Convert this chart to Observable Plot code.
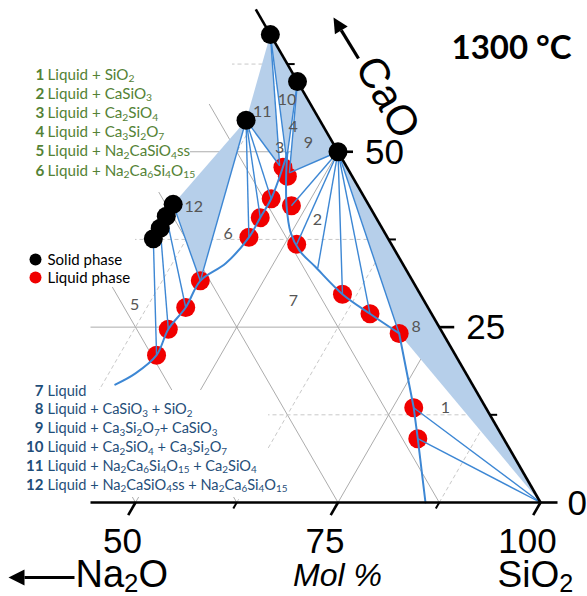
<!DOCTYPE html>
<html><head><meta charset="utf-8">
<script src="https://cdn.jsdelivr.net/npm/d3@7"></script>
<script src="https://cdn.jsdelivr.net/npm/@observablehq/plot@0.6"></script>
<style>body{margin:0;background:#fff}#chart svg{display:block}</style>
</head><body><div id="chart"></div>
<script>
// ---------------- DATA (mol %) ----------------
// Solid phases (black dots)
const solidPhase = ["Ca₂SiO₄","Ca₃Si₂O₇","CaSiO₃","Na₂Ca₆Si₄O₁₅","Na₂CaSiO₄ss","Na₂CaSiO₄ss","Na₂CaSiO₄ss","Na₂CaSiO₄ss"];
const solidCaO  = [66.7, 60.0, 50.0, 54.5, 42.5, 40.8, 39.1, 37.6];
const solidSiO2 = [33.3, 40.0, 50.0, 36.4, 33.4, 33.4, 33.5, 33.4];

// Liquid phase compositions (red dots)
const liquidCaO  = [47.8, 46.5, 43.3, 42.3, 40.6, 37.8, 36.8, 31.6, 27.8, 24.7, 21.0, 29.7, 26.9, 24.1, 13.5, 9.1];
const liquidSiO2 = [44.3, 45.5, 45.1, 48.1, 45.1, 45.1, 51.5, 42.2, 42.3, 41.7, 42.1, 60.7, 65.5, 70.5, 77.6, 80.3];

// Tie lines: solid end -> liquid end
const tieFromCaO  = [0, 0, 50, 50, 50, 50, 50, 50, 50, 54.5, 54.5, 54.5, 54.5, 54.5, 66.7, 66.7, 60, 60, 42.5, 40.8, 39.1, 37.6];
const tieFromSiO2 = [100, 100, 50, 50, 50, 50, 50, 50, 50, 36.4, 36.4, 36.4, 36.4, 36.4, 33.3, 33.3, 40, 40, 33.4, 33.4, 33.5, 33.4];
const tieToCaO    = [13.5, 9.1, 47.0, 42.3, 36.8, 33.4, 29.7, 26.9, 24.1, 48.0, 43.3, 40.6, 37.8, 31.6, 48.0, 48.9, 48.9, 47.0, 31.6, 27.8, 24.7, 21.0];
const tieToSiO2   = [77.6, 80.3, 45.5, 48.1, 51.5, 55.8, 60.7, 65.5, 70.5, 43.8, 45.1, 45.1, 45.1, 42.2, 43.8, 44.2, 44.2, 45.5, 42.2, 42.3, 41.7, 42.1];

// Three-phase triangles (regions 8-12)
const triRegion = [8, 8, 8, 9, 9, 9, 10, 10, 10, 11, 11, 11, 12, 12, 12];
const triCaO    = [50, 0, 24.1, 60, 50, 47.0, 66.7, 60, 48.9, 66.7, 54.5, 48.0, 42.5, 54.5, 31.6];
const triSiO2   = [50, 100, 70.5, 40, 50, 45.5, 33.3, 40, 44.2, 33.3, 36.4, 43.8, 33.4, 36.4, 42.2];

// Liquidus curves at 1300 °C
const curveACaO  = [16.8, 18.4, 21.0, 24.7, 27.8, 31.6, 34.1, 37.8, 40.6, 43.3, 47.8, 49.9];
const curveASiO2 = [39.1, 40.8, 42.1, 41.7, 42.3, 42.2, 44.1, 45.1, 45.1, 45.1, 44.3, 43.8];
const curveBCaO  = [49.9, 46.6, 42.3, 38.5, 35.9, 33.6, 29.7, 26.9, 24.1];
const curveBSiO2 = [43.8, 45.3, 47.5, 49.9, 52.3, 55.4, 60.7, 65.5, 70.5];
const curveSCaO  = [24.1, 13.5, 9.1, 0];
const curveSSiO2 = [70.5, 77.6, 80.3, 85.8];

// Region number labels
const regionLabel = ["1","2","3","4","5","6","7","8","9","10","11","12"];
const regionCaO   = [13.5, 40.3, 50.6, 53.5, 28.2, 38.3, 28.8, 25.1, 51.3, 57.4, 55.7, 42.2];
const regionSiO2  = [81.5, 52.3, 42.5, 42.7, 35.8, 42.3, 55.1, 72.1, 45.7, 40.0, 37.8, 36.1];

// Axes / grid
const bottomTicks = [50, 62.5, 75, 87.5, 100];
const rightTicks  = [0, 12.5, 25, 37.5, 50, 62.5];
const bottomTickLabels = ["50", "75", "100"];
const bottomTickLabelSiO2 = [50, 75, 100];
const rightTickLabels = ["0", "25", "50"];
const rightTickLabelCaO = [0, 25, 50];
const gridCaO  = [12.5, 25, 37.5, 50, 62.5];
const gridSiO2 = [37.5, 50, 62.5, 75, 87.5];
const gridNa2O = [12.5, 25, 37.5, 50];

// Legends
const legendTopNum  = ["1","2","3","4","5","6"];
const legendTopText = ["Liquid + SiO₂","Liquid + CaSiO₃","Liquid + Ca₂SiO₄","Liquid + Ca₃Si₂O₇","Liquid + Na₂CaSiO₄ss","Liquid + Na₂Ca₆Si₄O₁₅"];
const legendBotNum  = ["7","8","9","10","11","12"];
const legendBotText = ["Liquid","Liquid + CaSiO₃ + SiO₂","Liquid + Ca₃Si₂O₇+ CaSiO₃","Liquid + Ca₂SiO₄ + Ca₃Si₂O₇","Liquid + Na₂Ca₆Si₄O₁₅ + Ca₂SiO₄","Liquid + Na₂CaSiO₄ss + Na₂Ca₆Si₄O₁₅"];
const phaseLegend = ["Solid phase", "Liquid phase"];

// ---------------- LAYOUT ----------------
const W = 587, H = 596;
const K = 8.1;                       // px per mol%
const X0 = -270, Y0 = 502;
const KY = K * Math.sqrt(3) / 2;
const invX = px => (px - X0) / K;
const invY = py => (Y0 - py) / KY;
const cart = (c, s) => ({x: s + c / 2, y: c});
const XMIN = invX(90), YMAX = 62.6;

const BLUE = "#3d87d4", FILL = "#b6cfea", RED = "#f00000";
const GREEN = "#548235", NAVY = "#1f4e79";
const SANS = "Liberation Sans, Arial, sans-serif";
const CAL = "Lato, Carlito, Calibri, sans-serif";

function clipSeg(p, q) {
  let t0 = 0, t1 = 1;
  const dx = q.x - p.x, dy = q.y - p.y;
  const clip = (pp, qq) => {
    if (pp === 0) return qq >= 0;
    const r = qq / pp;
    if (pp < 0) { if (r > t1) return false; if (r > t0) t0 = r; }
    else { if (r < t0) return false; if (r < t1) t1 = r; }
    return true;
  };
  if (!clip(-dx, p.x - XMIN)) return null;
  if (!clip(dy, YMAX - p.y)) return null;
  return {x1: p.x + t0 * dx, y1: p.y + t0 * dy, x2: p.x + t1 * dx, y2: p.y + t1 * dy};
}
const gridSolid = [], gridDash = [];
gridCaO.forEach(c => { const s = clipSeg(cart(c, 0), cart(c, 100 - c)); if (s) (c % 25 ? gridDash : gridSolid).push(s); });
gridSiO2.forEach(v => { const s = clipSeg(cart(0, v), cart(100 - v, v)); if (s) (v % 25 ? gridDash : gridSolid).push(s); });
gridNa2O.forEach(n => { const s = clipSeg(cart(0, 100 - n), cart(100 - n, 0)); if (s) gridSolid.push(s); });

// white label boxes (px)
const boxesPx = [[28, 232, 55, 104], [28, 190, 104, 192], [25, 135, 228, 287], [20, 268, 390, 497]];
const boxes = boxesPx.map(([a, b, c, d]) => ({x1: invX(a), x2: invX(b), y1: invY(c), y2: invY(d)}));

const solids = solidCaO.map((c, i) => ({...cart(c, solidSiO2[i]), name: solidPhase[i]}));
const liquids = liquidCaO.map((c, i) => cart(c, liquidSiO2[i]));
const ties = tieFromCaO.map((c, i) => { const a = cart(c, tieFromSiO2[i]), b = cart(tieToCaO[i], tieToSiO2[i]); return {x1: a.x, y1: a.y, x2: b.x, y2: b.y}; });
const tris = triCaO.map((c, i) => ({...cart(c, triSiO2[i]), region: triRegion[i]}));
const curveA = curveACaO.map((c, i) => cart(c, curveASiO2[i]));
const curveB = curveBCaO.map((c, i) => cart(c, curveBSiO2[i]));
const curveS = curveSCaO.map((c, i) => cart(c, curveSSiO2[i]));
const regions = regionLabel.map((t, i) => ({...cart(regionCaO[i], regionSiO2[i]), t}));

// axes
const edgeA = cart(0, 100), edgeB = cart(70.3, 29.7);
const edges = [
  {x1: edgeA.x, y1: edgeA.y, x2: edgeB.x, y2: edgeB.y},
  {x1: XMIN, y1: 0, x2: 100, y2: 0}
];
const ticks = [];
bottomTicks.forEach(s => { const t = s % 25 ? 0.85 : 1.8; ticks.push({x1: s, y1: 0, x2: s - t / 2, y2: -t, w: s % 25 ? 2 : 2.6}); });
rightTicks.forEach(c => { const t = c % 25 ? 0.9 : (c === 0 ? 2.1 : 1.85); const a = cart(c, 100 - c); ticks.push({x1: a.x, y1: a.y, x2: a.x + t, y2: a.y, w: c % 25 ? 2 : 2.6}); });

// arrows (px layout)
function arrow(tail, tip, len, half) {
  const dx = tip[0] - tail[0], dy = tip[1] - tail[1], L = Math.hypot(dx, dy);
  const ux = dx / L, uy = dy / L, bx = tip[0] - len * ux, by = tip[1] - len * uy;
  return {
    shaft: {x1: invX(tail[0]), y1: invY(tail[1]), x2: invX(bx), y2: invY(by)},
    head: [[tip[0], tip[1]], [bx - half * uy, by + half * ux], [bx + half * uy, by - half * ux]].map(([px, py]) => ({x: invX(px), y: invY(py), id: tip.join()}))
  };
}
const arrCaO = arrow([358, 58], [333, 17], 15, 7.5);
const arrNa = arrow([74, 577], [8, 577], 16, 8);

const T = (pxX, pxY) => ({x: () => invX(pxX), y: () => invY(pxY)});

const plot = Plot.plot({
  width: W, height: H, margin: 0,
  x: {domain: [0, 100], range: [X0, X0 + 100 * K], axis: null},
  y: {domain: [0, 100], range: [Y0, Y0 - 100 * KY], axis: null},
  style: {background: "white", overflow: "hidden"},
  marks: [
    Plot.link(gridSolid, {x1: "x1", y1: "y1", x2: "x2", y2: "y2", stroke: "#a3a3a3", strokeWidth: 0.9}),
    Plot.link(gridDash, {x1: "x1", y1: "y1", x2: "x2", y2: "y2", stroke: "#c2c2c2", strokeWidth: 0.9, strokeDasharray: "4,3"}),
    Plot.rect(boxes, {x1: "x1", x2: "x2", y1: "y1", y2: "y2", fill: "white"}),
    Plot.line(tris, {x: "x", y: "y", z: "region", fill: FILL, stroke: "none"}),
    Plot.dot(liquids, {x: "x", y: "y", r: 9.5, fill: RED}),
    Plot.link(ties, {x1: "x1", y1: "y1", x2: "x2", y2: "y2", stroke: BLUE, strokeWidth: 1.4}),
    Plot.line(curveA, {x: "x", y: "y", curve: "catmull-rom", stroke: BLUE, strokeWidth: 2}),
    Plot.line(curveB, {x: "x", y: "y", curve: "catmull-rom", stroke: BLUE, strokeWidth: 2}),
    Plot.line(curveS, {x: "x", y: "y", stroke: BLUE, strokeWidth: 2}),
    Plot.dot(solids, {x: "x", y: "y", r: 9.5, fill: "black"}),
    Plot.link(edges, {x1: "x1", y1: "y1", x2: "x2", y2: "y2", stroke: "black", strokeWidth: 2.6}),
    Plot.link(ticks, {x1: "x1", y1: "y1", x2: "x2", y2: "y2", stroke: "black", strokeWidth: "w"}),
    Plot.text(regions, {x: "x", y: "y", text: "t", fill: "#555", fontSize: 16, fontFamily: CAL}),
    // tick labels
    Plot.text(bottomTickLabels, {x: (d, i) => bottomTickLabelSiO2[i], y: () => 0, text: d => d, dx: -13, dy: 50, lineAnchor: "bottom", fontSize: 35, fontFamily: SANS, fill: "black"}),
    Plot.text(rightTickLabels, {x: (d, i) => cart(rightTickLabelCaO[i], 100 - rightTickLabelCaO[i]).x, y: (d, i) => rightTickLabelCaO[i], text: d => d, dx: 27, dy: 12, textAnchor: "start", lineAnchor: "bottom", fontSize: 35, fontFamily: SANS, fill: "black"}),
    // axis titles
    Plot.text(["CaO"], {...T(387, 97), text: d => d, rotate: 60, fontSize: 42, fontFamily: SANS, fill: "black"}),
    Plot.text(["Na₂O"], {...T(75, 586), text: d => d, textAnchor: "start", lineAnchor: "bottom", fontSize: 38, fontFamily: SANS, fill: "black"}),
    Plot.text(["SiO₂"], {...T(497, 586), text: d => d, textAnchor: "start", lineAnchor: "bottom", fontSize: 37, fontFamily: SANS, fill: "black"}),
    Plot.text(["Mol %"], {...T(337, 585), text: d => d, lineAnchor: "bottom", fontSize: 32, fontStyle: "italic", fontFamily: SANS, fill: "black"}),
    Plot.text(["1300 °C"], {...T(451, 58), text: d => d, textAnchor: "start", lineAnchor: "bottom", fontSize: 33, fontWeight: "bold", fontFamily: CAL, fill: "black"}),
    // arrows
    Plot.link([arrCaO.shaft, arrNa.shaft], {x1: "x1", y1: "y1", x2: "x2", y2: "y2", stroke: "black", strokeWidth: 3.2}),
    Plot.line([...arrCaO.head, ...arrNa.head], {x: "x", y: "y", z: "id", fill: "black", stroke: "none"}),
    // phase legend
    Plot.dot(phaseLegend, {x: () => invX(35), y: (d, i) => invY(259 + i * 18), r: 6, fill: (d, i) => i ? RED : "black"}),
    Plot.text(phaseLegend, {x: () => invX(47), y: (d, i) => invY(264 + i * 18), text: d => d, textAnchor: "start", lineAnchor: "bottom", fontSize: 15, fontFamily: CAL, fill: "black"}),
    // top legend
    Plot.text(legendTopNum, {x: () => invX(35), y: (d, i) => invY(79 + i * 19.2), text: d => d, textAnchor: "start", lineAnchor: "bottom", fontSize: 15.2, fontWeight: "bold", fontFamily: CAL, fill: GREEN}),
    Plot.text(legendTopText, {x: () => invX(47), y: (d, i) => invY(79 + i * 19.2), text: d => d, textAnchor: "start", lineAnchor: "bottom", fontSize: 15.2, fontFamily: CAL, fill: GREEN}),
    // bottom legend
    Plot.text(legendBotNum, {x: () => invX(43), y: (d, i) => invY(395 + i * 18.8), text: d => d, textAnchor: "end", lineAnchor: "bottom", fontSize: 15, fontWeight: "bold", fontFamily: CAL, fill: NAVY}),
    Plot.text(legendBotText, {x: () => invX(47), y: (d, i) => invY(395 + i * 18.8), text: d => d, textAnchor: "start", lineAnchor: "bottom", fontSize: 14.6, fontFamily: CAL, fill: NAVY})
  ]
});
document.getElementById("chart").appendChild(plot);

// render unicode subscripts as real lowered text
const SUB = /[\u2080-\u2089]/;
plot.querySelectorAll("text").forEach(t => {
  if (t.querySelector("tspan")) return;
  const s = t.textContent;
  if (!SUB.test(s)) return;
  const F = parseFloat(getComputedStyle(t).fontSize) || 15;
  const shift = F > 30 ? 0.14 * F : 0.18 * F;
  const scale = 0.68;
  t.textContent = "";
  let shifted = false;
  for (const r of s.match(/[\u2080-\u2089]+|[^\u2080-\u2089]+/g)) {
    const ts = document.createElementNS("http://www.w3.org/2000/svg", "tspan");
    if (SUB.test(r)) {
      ts.textContent = r.replace(/[\u2080-\u2089]/g, ch => String(ch.charCodeAt(0) - 0x2080));
      ts.setAttribute("font-size", F * scale);
      if (!shifted) ts.setAttribute("dy", shift);
      shifted = true;
    } else {
      ts.textContent = r;
      if (shifted) ts.setAttribute("dy", -shift);
      shifted = false;
    }
    t.appendChild(ts);
  }
});
</script>
</body></html>
